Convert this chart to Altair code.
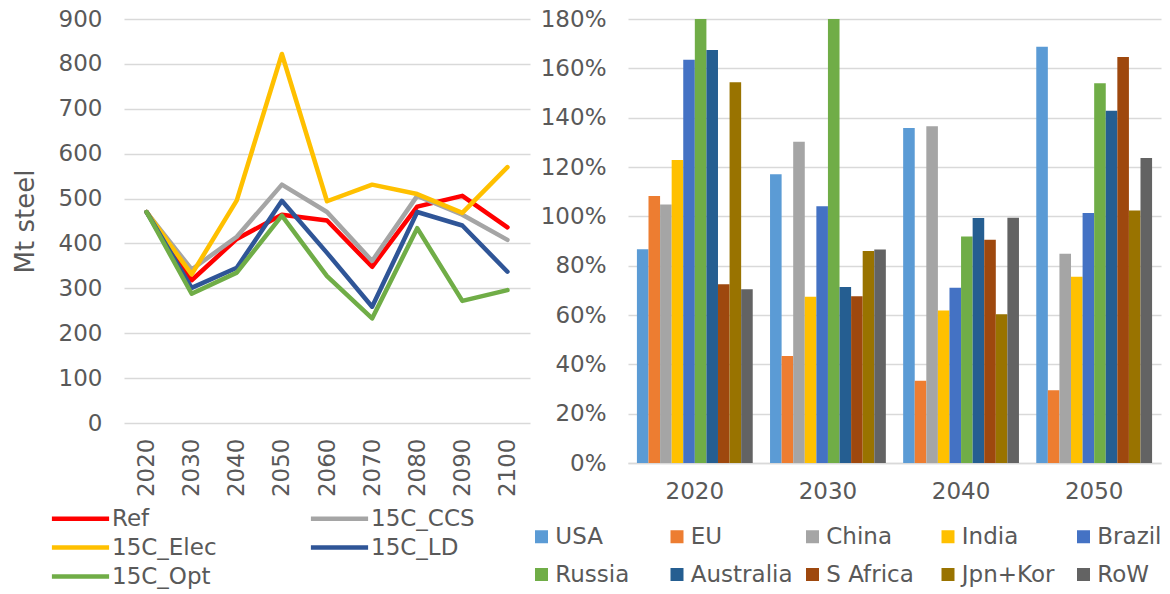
import altair as alt
import pandas as pd

# ---------------- data ----------------
years = ["2020", "2030", "2040", "2050", "2060", "2070", "2080", "2090", "2100"]
scenarios = ["Ref", "15C_CCS", "15C_Elec", "15C_LD", "15C_Opt"]
scen_colors = ["#FF0000", "#A5A5A5", "#FFC000", "#2F5597", "#70AD47"]
ref = [470, 318, 410, 464, 451, 348, 482, 506, 436]
ccs = [470, 342, 415, 531, 470, 361, 506, 464, 408]
elec = [470, 331, 496, 822, 494, 531, 510, 468, 570]
ld = [470, 301, 346, 495, 379, 259, 470, 440, 337]
opt = [470, 288, 335, 462, 327, 233, 434, 272, 296]

periods = ["2020", "2030", "2040", "2050"]
regions = ["USA", "EU", "China", "India", "Brazil", "Russia", "Australia",
           "S Africa", "Jpn+Kor", "RoW"]
region_colors = ["#5B9BD5", "#ED7D31", "#A5A5A5", "#FFC000", "#4472C4",
                 "#70AD47", "#255E91", "#9E480E", "#997300", "#636363"]
ratio_2020 = [0.867, 1.082, 1.048, 1.228, 1.635, 1.95, 1.674, 0.725, 1.544, 0.704]
ratio_2030 = [1.171, 0.434, 1.302, 0.674, 1.041, 2.05, 0.714, 0.676, 0.859, 0.866]
ratio_2040 = [1.358, 0.333, 1.365, 0.618, 0.710, 0.918, 0.993, 0.905, 0.603, 0.994]
ratio_2050 = [1.688, 0.295, 0.848, 0.755, 1.014, 1.540, 1.428, 1.646, 1.024, 1.236]
y_ticks = [0, 0.2, 0.4, 0.6, 0.8, 1.0, 1.2, 1.4, 1.6, 1.8]

FONT = "DejaVu Sans"
TXT = "#595959"
GRID = "#D9D9D9"

# ---------------- tables ----------------
series = [ref, ccs, elec, ld, opt]
line_df = pd.DataFrame(
    [{"Year": y, "Scenario": s, "Mt": v, "ord": i}
     for i, (s, vals) in enumerate(zip(scenarios, series))
     for y, v in zip(years, vals)]
)
ratios = [ratio_2020, ratio_2030, ratio_2040, ratio_2050]
bar_df = pd.DataFrame(
    [{"Period": p, "Region": r, "Ratio": v}
     for p, vals in zip(periods, ratios)
     for r, v in zip(regions, vals)]
)

# ---------------- left: line chart ----------------
left = alt.Chart(line_df).mark_line(
    strokeWidth=4.5, strokeCap="round", strokeJoin="round"
).encode(
    x=alt.X("Year:N", sort=years,
            scale=alt.Scale(type="point", padding=0.5),
            axis=alt.Axis(title=None, labelAngle=-90, labelPadding=15,
                          ticks=False, domain=False, grid=False)),
    y=alt.Y("Mt:Q", scale=alt.Scale(domain=[0, 900], nice=False),
            axis=alt.Axis(title="Mt steel", values=list(range(0, 1000, 100)),
                          ticks=False, domain=False, grid=True,
                          labelPadding=22, titlePadding=20, titleFontSize=26)),
    color=alt.Color("Scenario:N", sort=scenarios,
                    scale=alt.Scale(domain=scenarios, range=scen_colors),
                    legend=alt.Legend(
                        orient="none", direction="horizontal",
                        legendX=-57, legendY=486, title=None,
                        columns=2, symbolType="M-2.6,0H2.6", symbolSize=484,
                        symbolStrokeWidth=4.5, labelOffset=18,
                        columnPadding=84, rowPadding=3, padding=0)),
    order=alt.Order("ord:Q"),
).properties(width=406, height=404)

# ---------------- right: grouped bars ----------------
right = alt.Chart(bar_df).mark_bar(clip=True).encode(
    x=alt.X("Period:N", sort=periods,
            scale=alt.Scale(paddingInner=0.13, paddingOuter=0.067),
            axis=alt.Axis(title=None, labelAngle=0, ticks=False, domain=True,
                          domainColor=GRID, domainWidth=1.5, labelPadding=17,
                          grid=False)),
    xOffset=alt.XOffset("Region:N", sort=regions,
                        scale=alt.Scale(paddingInner=0, paddingOuter=0)),
    y=alt.Y("Ratio:Q", scale=alt.Scale(domain=[0, 1.8], nice=False),
            axis=alt.Axis(title=None, values=y_ticks, format=".0%",
                          ticks=False, domain=False, grid=True,
                          labelPadding=22)),
    color=alt.Color("Region:N", sort=regions,
                    scale=alt.Scale(domain=regions, range=region_colors),
                    legend=alt.Legend(
                        orient="none", direction="horizontal",
                        legendX=-98, legendY=506, title=None,
                        columns=5, symbolType="square",
                        symbolSize=169, symbolStrokeWidth=0, labelOffset=2.3,
                        columnPadding=7.5, rowPadding=14, gridAlign="all",
                        padding=0)),
).properties(width=533, height=444)

chart = alt.hconcat(left, right, spacing=98, bounds="flush").resolve_scale(
    color="independent"
).properties(
    padding={"left": 4, "top": 0, "right": 0, "bottom": 0}
).configure_view(stroke=None).configure_axis(
    labelFont=FONT, titleFont=FONT, labelFontSize=23, labelColor=TXT,
    titleColor=TXT, titleFontWeight="normal", gridColor=GRID, gridWidth=1.3
).configure_legend(
    labelFont=FONT, labelFontSize=23, labelColor=TXT, labelLimit=300
)

chart.save("out.html", embed_options={"renderer": "svg", "actions": False})
